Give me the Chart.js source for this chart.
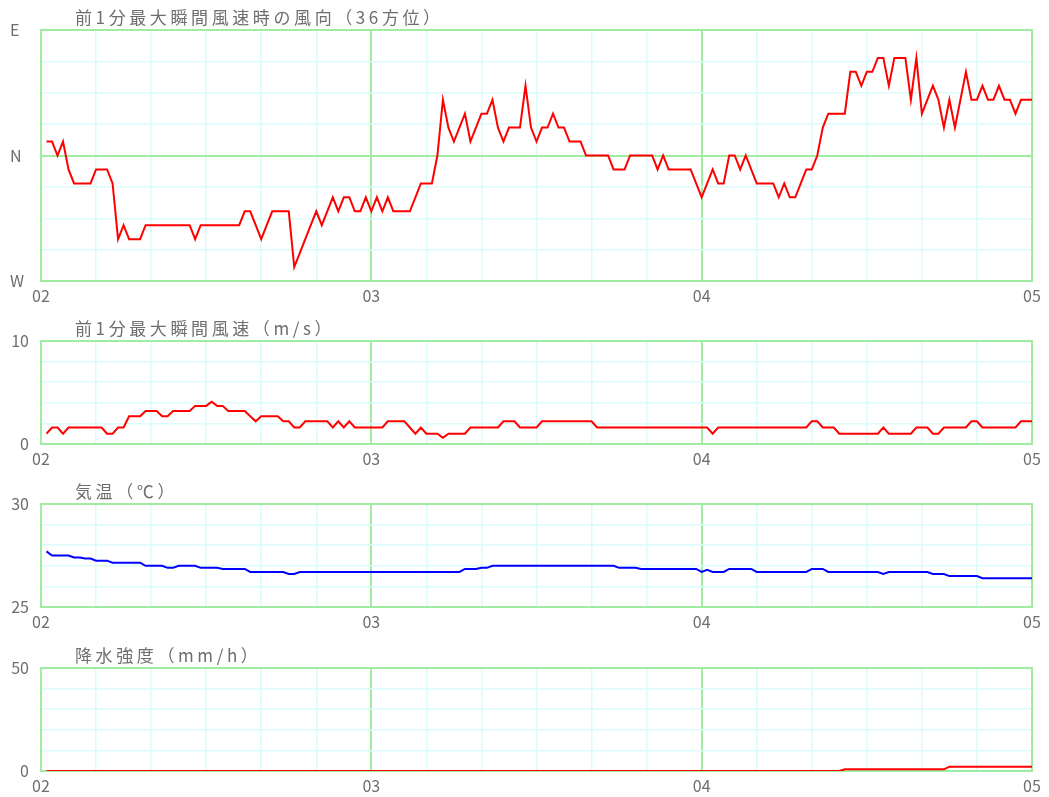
<!DOCTYPE html>
<html lang="ja">
<head>
<meta charset="utf-8">
<title>気象観測グラフ</title>
<script src="https://cdn.jsdelivr.net/npm/chart.js@4/dist/chart.umd.min.js"></script>
<style>
  html, body { margin: 0; padding: 0; background: #ffffff; }
  .panel { position: absolute; left: 0; width: 1049px; }
  .panel canvas { display: block; }
</style>
</head>
<body>
<div class="panel" style="top:0px"><canvas id="dirChart" width="1049" height="305"></canvas></div>
<div class="panel" style="top:310px"><canvas id="speedChart" width="1049" height="158"></canvas></div>
<div class="panel" style="top:470px"><canvas id="tempChart" width="1049" height="161"></canvas></div>
<div class="panel" style="top:634px"><canvas id="rainChart" width="1049" height="161"></canvas></div>

<script>
// 1分値: 02:01 から 05:00 まで (x は 02:00 からの経過分)
const hourLabels = ['02', '03', '04', '05'];

// 前1分最大瞬間風速時の風向 (36方位, 度)
const windDir = [
  10, 10, 0, 10, 350, 340, 340, 340, 340, 350,
  350, 350, 340, 300, 310, 300, 300, 300, 310, 310,
  310, 310, 310, 310, 310, 310, 310, 300, 310, 310,
  310, 310, 310, 310, 310, 310, 320, 320, 310, 300,
  310, 320, 320, 320, 320, 280, 290, 300, 310, 320,
  310, 320, 330, 320, 330, 330, 320, 320, 330, 320,
  330, 320, 330, 320, 320, 320, 320, 330, 340, 340,
  340, 0, 40, 20, 10, 20, 30, 10, 20, 30,
  30, 40, 20, 10, 20, 20, 20, 50, 20, 10,
  20, 20, 30, 20, 20, 10, 10, 10, 0, 0,
  0, 0, 0, 350, 350, 350, 0, 0, 0, 0,
  0, 350, 0, 350, 350, 350, 350, 350, 340, 330,
  340, 350, 340, 340, 0, 0, 350, 0, 350, 340,
  340, 340, 340, 330, 340, 330, 330, 340, 350, 350,
  0, 20, 30, 30, 30, 30, 60, 60, 50, 60,
  60, 70, 70, 50, 70, 70, 70, 40, 70, 30,
  40, 50, 40, 20, 40, 20, 40, 60, 40, 40,
  50, 40, 40, 50, 40, 40, 30, 40, 40, 40
];

// 前1分最大瞬間風速 (m/s)
const windSpeed = [
  1.0, 1.6, 1.6, 1.0, 1.6, 1.6, 1.6, 1.6, 1.6, 1.6,
  1.6, 1.0, 1.0, 1.6, 1.6, 2.7, 2.7, 2.7, 3.2, 3.2,
  3.2, 2.7, 2.7, 3.2, 3.2, 3.2, 3.2, 3.7, 3.7, 3.7,
  4.1, 3.7, 3.7, 3.2, 3.2, 3.2, 3.2, 2.7, 2.2, 2.7,
  2.7, 2.7, 2.7, 2.2, 2.2, 1.6, 1.6, 2.2, 2.2, 2.2,
  2.2, 2.2, 1.6, 2.2, 1.6, 2.2, 1.6, 1.6, 1.6, 1.6,
  1.6, 1.6, 2.2, 2.2, 2.2, 2.2, 1.6, 1.0, 1.6, 1.0,
  1.0, 1.0, 0.6, 1.0, 1.0, 1.0, 1.0, 1.6, 1.6, 1.6,
  1.6, 1.6, 1.6, 2.2, 2.2, 2.2, 1.6, 1.6, 1.6, 1.6,
  2.2, 2.2, 2.2, 2.2, 2.2, 2.2, 2.2, 2.2, 2.2, 2.2,
  1.6, 1.6, 1.6, 1.6, 1.6, 1.6, 1.6, 1.6, 1.6, 1.6,
  1.6, 1.6, 1.6, 1.6, 1.6, 1.6, 1.6, 1.6, 1.6, 1.6,
  1.6, 1.0, 1.6, 1.6, 1.6, 1.6, 1.6, 1.6, 1.6, 1.6,
  1.6, 1.6, 1.6, 1.6, 1.6, 1.6, 1.6, 1.6, 1.6, 2.2,
  2.2, 1.6, 1.6, 1.6, 1.0, 1.0, 1.0, 1.0, 1.0, 1.0,
  1.0, 1.0, 1.6, 1.0, 1.0, 1.0, 1.0, 1.0, 1.6, 1.6,
  1.6, 1.0, 1.0, 1.6, 1.6, 1.6, 1.6, 1.6, 2.2, 2.2,
  1.6, 1.6, 1.6, 1.6, 1.6, 1.6, 1.6, 2.2, 2.2, 2.2
];

// 気温 (℃)
const airTemp = [
  27.7, 27.5, 27.5, 27.5, 27.5, 27.4, 27.4, 27.35, 27.35, 27.25,
  27.25, 27.25, 27.15, 27.15, 27.15, 27.15, 27.15, 27.15, 27.0, 27.0,
  27.0, 27.0, 26.9, 26.9, 27.0, 27.0, 27.0, 27.0, 26.9, 26.9,
  26.9, 26.9, 26.85, 26.85, 26.85, 26.85, 26.85, 26.7, 26.7, 26.7,
  26.7, 26.7, 26.7, 26.7, 26.6, 26.6, 26.7, 26.7, 26.7, 26.7,
  26.7, 26.7, 26.7, 26.7, 26.7, 26.7, 26.7, 26.7, 26.7, 26.7,
  26.7, 26.7, 26.7, 26.7, 26.7, 26.7, 26.7, 26.7, 26.7, 26.7,
  26.7, 26.7, 26.7, 26.7, 26.7, 26.7, 26.85, 26.85, 26.85, 26.9,
  26.9, 27.0, 27.0, 27.0, 27.0, 27.0, 27.0, 27.0, 27.0, 27.0,
  27.0, 27.0, 27.0, 27.0, 27.0, 27.0, 27.0, 27.0, 27.0, 27.0,
  27.0, 27.0, 27.0, 27.0, 26.9, 26.9, 26.9, 26.9, 26.85, 26.85,
  26.85, 26.85, 26.85, 26.85, 26.85, 26.85, 26.85, 26.85, 26.85, 26.7,
  26.8, 26.7, 26.7, 26.7, 26.85, 26.85, 26.85, 26.85, 26.85, 26.7,
  26.7, 26.7, 26.7, 26.7, 26.7, 26.7, 26.7, 26.7, 26.7, 26.85,
  26.85, 26.85, 26.7, 26.7, 26.7, 26.7, 26.7, 26.7, 26.7, 26.7,
  26.7, 26.7, 26.6, 26.7, 26.7, 26.7, 26.7, 26.7, 26.7, 26.7,
  26.7, 26.6, 26.6, 26.6, 26.5, 26.5, 26.5, 26.5, 26.5, 26.5,
  26.4, 26.4, 26.4, 26.4, 26.4, 26.4, 26.4, 26.4, 26.4, 26.4
];

// 降水強度 (mm/h)
const rainRate = [
  0, 0, 0, 0, 0, 0, 0, 0, 0, 0,
  0, 0, 0, 0, 0, 0, 0, 0, 0, 0,
  0, 0, 0, 0, 0, 0, 0, 0, 0, 0,
  0, 0, 0, 0, 0, 0, 0, 0, 0, 0,
  0, 0, 0, 0, 0, 0, 0, 0, 0, 0,
  0, 0, 0, 0, 0, 0, 0, 0, 0, 0,
  0, 0, 0, 0, 0, 0, 0, 0, 0, 0,
  0, 0, 0, 0, 0, 0, 0, 0, 0, 0,
  0, 0, 0, 0, 0, 0, 0, 0, 0, 0,
  0, 0, 0, 0, 0, 0, 0, 0, 0, 0,
  0, 0, 0, 0, 0, 0, 0, 0, 0, 0,
  0, 0, 0, 0, 0, 0, 0, 0, 0, 0,
  0, 0, 0, 0, 0, 0, 0, 0, 0, 0,
  0, 0, 0, 0, 0, 0, 0, 0, 0, 0,
  0, 0, 0, 0, 0, 0.8, 0.8, 0.8, 0.8, 0.8,
  0.8, 0.8, 0.8, 0.8, 0.8, 0.8, 0.8, 0.8, 0.8, 0.8,
  0.8, 0.8, 0.8, 0.8, 2.1, 2.1, 2.1, 2.1, 2.1, 2.1,
  2.1, 2.1, 2.1, 2.1, 2.1, 2.1, 2.1, 2.1, 2.1, 2.1
];

// 風向の軸ラベル (西 → 北 → 東)
const dirLabels = { 270: 'W', 360: 'N', 450: 'E' };

const GREEN = '#a0eca0';
const CYAN = '#dcfcfc';
const TEXT = '#6e6e6e';
const FONT = '"Noto Sans CJK JP", "Noto Sans", sans-serif';

// 北をまたいで線が途切れないよう、東側(0〜180度)は +360 して描く
const unwrapDir = d => (d <= 180 ? d + 360 : d);
const toPoints = (arr, f = v => v) => arr.map((v, i) => ({ x: i + 1, y: f(v) }));

// パネル左上の見出し
const panelTitle = {
  id: 'panelTitle',
  afterDraw(chart, args, opts) {
    const { ctx, chartArea } = chart;
    ctx.save();
    ctx.font = '17px ' + FONT;
    ctx.fillStyle = TEXT;
    ctx.textBaseline = 'middle';
    ctx.textAlign = 'left';
    if ('letterSpacing' in ctx) ctx.letterSpacing = '3.6px';
    ctx.fillText(opts.text, chartArea.left + 34, chartArea.top - 12);
    ctx.restore();
  }
};

// プロット領域の外枠
const plotFrame = {
  id: 'plotFrame',
  beforeDatasetsDraw(chart) {
    const { ctx, chartArea: a } = chart;
    ctx.save();
    ctx.strokeStyle = GREEN;
    ctx.lineWidth = 2;
    ctx.strokeRect(a.left, a.top, a.right - a.left, a.bottom - a.top);
    ctx.restore();
  }
};

function makePanel(id, cfg) {
  const canvas = document.getElementById(id);
  return new Chart(canvas, {
    type: 'line',
    data: {
      datasets: [{
        data: cfg.points,
        borderColor: cfg.color,
        borderWidth: 2,
        pointRadius: 0,
        tension: 0,
        fill: false
      }]
    },
    plugins: [panelTitle, plotFrame],
    options: {
      responsive: false,
      animation: false,
      events: [],
      layout: { padding: { left: 10, right: 17, top: cfg.top, bottom: 0 } },
      plugins: {
        legend: { display: false },
        tooltip: { enabled: false },
        panelTitle: { text: cfg.title }
      },
      scales: {
        x: {
          type: 'linear',
          min: 0,
          max: 180,
          afterFit(scale) { scale.height = 24; },
          afterBuildTicks(scale) {
            const ticks = [];
            for (let m = 0; m <= 180; m += 10) ticks.push({ value: m });
            scale.ticks = ticks;
          },
          ticks: {
            autoSkip: false,
            maxRotation: 0,
            padding: 5,
            color: TEXT,
            font: { family: FONT, size: 16 },
            callback: v => (v % 60 === 0 ? hourLabels[v / 60] : '')
          },
          grid: {
            drawTicks: false,
            color: c => (c.tick && c.tick.value % 60 === 0 ? GREEN : CYAN),
            lineWidth: c => (c.tick && c.tick.value % 60 === 0 ? 2 : 1.5)
          },
          border: { display: false }
        },
        y: {
          type: 'linear',
          min: cfg.min,
          max: cfg.max,
          afterFit(scale) { scale.width = 31; },
          afterBuildTicks(scale) {
            const ticks = [];
            for (const v of cfg.gridValues) ticks.push({ value: v });
            scale.ticks = ticks;
          },
          ticks: {
            autoSkip: false,
            padding: cfg.labelPad,
            crossAlign: cfg.crossAlign,
            color: TEXT,
            font: { family: FONT, size: 16 },
            callback: cfg.label
          },
          grid: {
            drawTicks: false,
            color: c => (c.tick && cfg.greenValues.includes(c.tick.value) ? GREEN : CYAN),
            lineWidth: c => (c.tick && cfg.greenValues.includes(c.tick.value) ? 2 : 1.5)
          },
          border: { display: false }
        }
      }
    }
  });
}

makePanel('dirChart', {
  title: '前1分最大瞬間風速時の風向（36方位）',
  points: toPoints(windDir, unwrapDir),
  color: '#ff0000',
  top: 30,
  min: 270,
  max: 450,
  gridValues: [270, 292.5, 315, 337.5, 360, 382.5, 405, 427.5, 450],
  greenValues: [270, 360, 450],
  crossAlign: 'far',
  labelPad: 0,
  label: v => dirLabels[v] || ''
});

makePanel('speedChart', {
  title: '前1分最大瞬間風速（m/s）',
  points: toPoints(windSpeed),
  color: '#ff0000',
  top: 31,
  min: 0,
  max: 10,
  gridValues: [0, 2, 4, 6, 8, 10],
  greenValues: [0, 10],
  crossAlign: 'near',
  labelPad: 12,
  label: v => (v === 0 || v === 10 ? String(v) : '')
});

makePanel('tempChart', {
  title: '気温（℃）',
  points: toPoints(airTemp),
  color: '#0000ff',
  top: 34,
  min: 25,
  max: 30,
  gridValues: [25, 26, 27, 28, 29, 30],
  greenValues: [25, 30],
  crossAlign: 'near',
  labelPad: 12,
  label: v => (v === 25 || v === 30 ? String(v) : '')
});

makePanel('rainChart', {
  title: '降水強度（mm/h）',
  points: toPoints(rainRate),
  color: '#ff0000',
  top: 34,
  min: 0,
  max: 50,
  gridValues: [0, 10, 20, 30, 40, 50],
  greenValues: [0, 50],
  crossAlign: 'near',
  labelPad: 12,
  label: v => (v === 0 || v === 50 ? String(v) : '')
});
</script>
</body>
</html>
